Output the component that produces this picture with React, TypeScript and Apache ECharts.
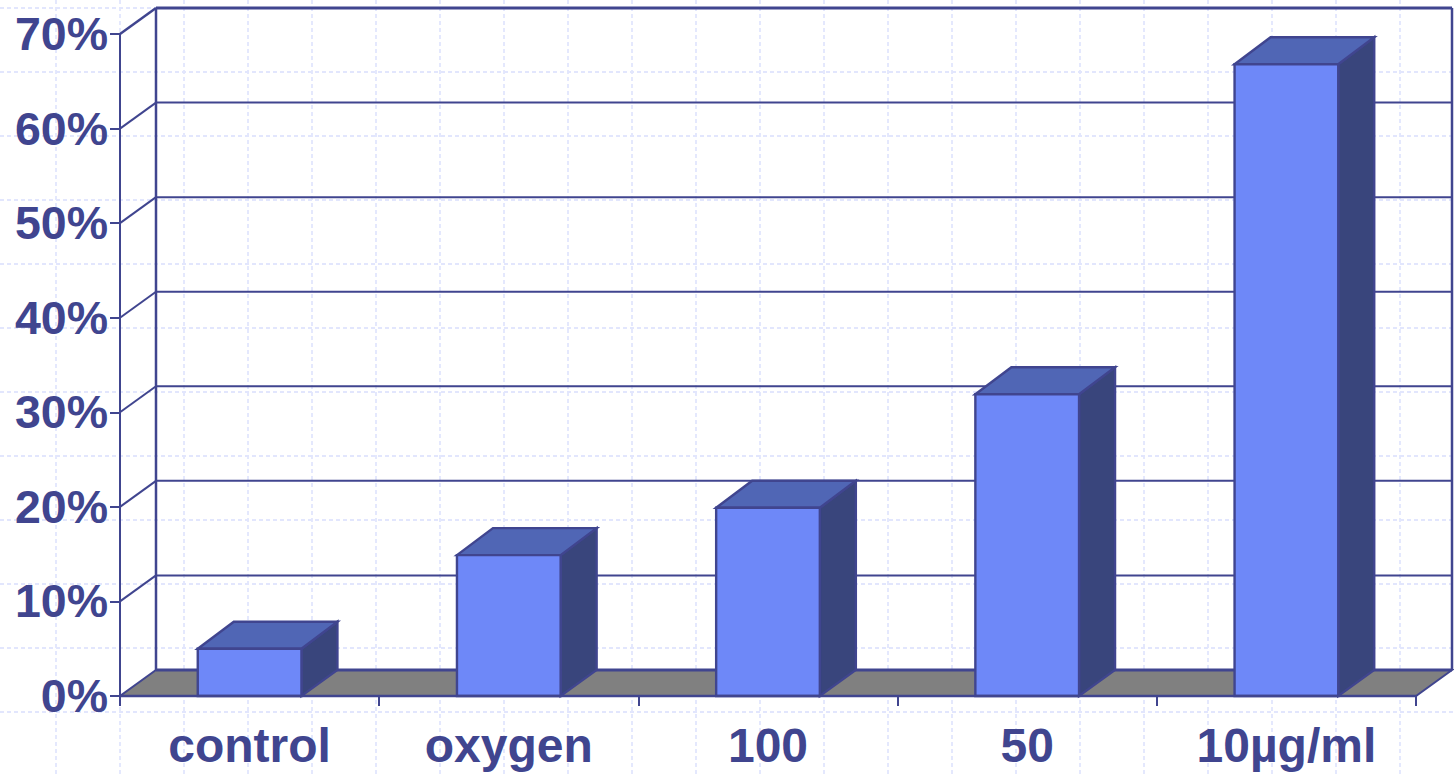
import React, { useEffect, useRef } from "react";
import * as echarts from "echarts";

const categories = ["control", "oxygen", "100", "50", "10µg/ml"];
const values = [5, 14.9, 19.9, 31.9, 66.8];
const wallTicks = [10, 20, 30, 40, 50, 60, 70];
const paperLinesX = [56, 120, 184, 248, 312, 376, 440, 504, 568, 632, 696, 760, 824, 888, 952, 1016, 1080, 1144, 1208, 1272, 1336, 1400];
const paperLinesY = [8, 72, 136, 200, 264, 328, 392, 456, 520, 584, 648, 712];

const INK = "#40458f";
const DX = 36;
const DY = -26;
const BAR_DY = -27;
const FONT = "'Liberation Sans', Arial, sans-serif";

export default function App() {
  const ref = useRef<HTMLDivElement>(null);
  useEffect(() => {
    const chart = echarts.init(ref.current!, undefined, { renderer: "svg" });
    const paperStyle = { stroke: "#e2e6fd", lineWidth: 1.8, lineDash: [4, 3] };
    const graphic = [
      ...paperLinesX.map((x) => ({ type: "line", silent: true, z: -1, shape: { x1: x, y1: 0, x2: x, y2: 774 }, style: paperStyle })),
      ...paperLinesY.map((y) => ({ type: "line", silent: true, z: -1, shape: { x1: 0, y1: y, x2: 1454, y2: y }, style: paperStyle })),
    ];

    const option: any = {
      animation: false,
      backgroundColor: "#ffffff",
      graphic,
      grid: { left: 120, top: 34, width: 1296, height: 662, containLabel: false },
      xAxis: {
        type: "category",
        data: categories,
        boundaryGap: true,
        z: 6,
        axisLine: { show: true, lineStyle: { color: INK, width: 2.4 } },
        axisTick: { show: true, alignWithLabel: false, length: 10, lineStyle: { color: INK, width: 2 } },
        axisLabel: { color: INK, fontFamily: FONT, fontWeight: "bold", fontSize: 48, margin: 25, interval: 0 },
        splitLine: { show: false },
      },
      yAxis: {
        type: "value",
        min: 0,
        max: 70,
        interval: 10,
        z: 6,
        axisLine: { show: true, lineStyle: { color: INK, width: 2 } },
        axisTick: { show: true, length: 10, lineStyle: { color: INK, width: 2 } },
        axisLabel: { color: INK, fontFamily: FONT, fontWeight: "bold", fontSize: 46.5, margin: 12, formatter: "{value}%" },
        splitLine: { show: false },
      },
      series: [
        {
          type: "custom",
          name: "floor",
          z: 1,
          silent: true,
          encode: { x: 0, y: 1 },
          data: [[0, 0]],
          renderItem: (_p: any, api: any) => {
            const a = api.coord([0, 0]);
            const bw = api.size([1, 0])[0];
            const left = a[0] - bw / 2;
            const right = left + bw * categories.length;
            const y = a[1];
            return {
              type: "group",
              children: [
                {
                  type: "polygon",
                  shape: { points: [[left, y], [right, y], [right + DX, y + DY], [left + DX, y + DY]] },
                  style: { fill: "#808080", stroke: INK, lineWidth: 2 },
                },
                {
                  type: "line",
                  shape: { x1: left + DX, y1: y + DY, x2: right + DX, y2: y + DY },
                  style: { stroke: INK, lineWidth: 3 },
                },
              ],
            };
          },
        },
        {
          type: "custom",
          name: "walls",
          z: 1,
          silent: true,
          encode: { x: 0, y: 1 },
          data: wallTicks.map((v) => [0, v]),
          renderItem: (_p: any, api: any) => {
            const v = api.value(1);
            const bw = api.size([1, 0])[0];
            const a = api.coord([0, v]);
            const left = a[0] - bw / 2;
            const right = left + bw * categories.length;
            const y = a[1];
            const top = v === wallTicks[wallTicks.length - 1];
            const children: any[] = [
              { type: "line", shape: { x1: left, y1: y, x2: left + DX, y2: y + DY }, style: { stroke: INK, lineWidth: top ? 2.5 : 2 } },
              { type: "line", shape: { x1: left + DX, y1: y + DY, x2: right + DX, y2: y + DY }, style: { stroke: INK, lineWidth: top ? 3 : 2 } },
            ];
            if (top) {
              const floorY = api.coord([0, 0])[1] + DY;
              children.push(
                { type: "line", shape: { x1: left + DX, y1: y + DY, x2: left + DX, y2: floorY }, style: { stroke: INK, lineWidth: 2.5 } },
                { type: "line", shape: { x1: right + DX, y1: y + DY, x2: right + DX, y2: floorY }, style: { stroke: INK, lineWidth: 2.5 } }
              );
            }
            return { type: "group", children };
          },
        },
        {
          type: "custom",
          name: "bars",
          z: 3,
          silent: true,
          encode: { x: 0, y: 1 },
          data: values.map((v, i) => [i, v]),
          renderItem: (_p: any, api: any) => {
            const top = api.coord([api.value(0), api.value(1)]);
            const base = api.coord([api.value(0), 0]);
            const w = api.size([1, 0])[0] * 0.4;
            const l = top[0] - w / 2;
            const r = top[0] + w / 2;
            const stroke = { stroke: INK, lineWidth: 2.4, lineJoin: "miter" };
            return {
              type: "group",
              children: [
                {
                  type: "polygon",
                  shape: { points: [[r, top[1]], [r + DX, top[1] + BAR_DY], [r + DX, base[1] + DY], [r, base[1]]] },
                  style: { fill: "#39457c", ...stroke },
                },
                {
                  type: "polygon",
                  shape: { points: [[l, top[1]], [l + DX, top[1] + BAR_DY], [r + DX, top[1] + BAR_DY], [r, top[1]]] },
                  style: { fill: "#5066b5", ...stroke },
                },
                {
                  type: "rect",
                  shape: { x: l, y: top[1], width: r - l, height: base[1] - top[1] },
                  style: { fill: "#6e88f8", ...stroke },
                },
              ],
            };
          },
        },
      ],
    };
    chart.setOption(option);
    return () => chart.dispose();
  }, []);
  return <div ref={ref} style={{ position: "fixed", left: 0, top: 0, width: 1454, height: 774 }} />;
}
